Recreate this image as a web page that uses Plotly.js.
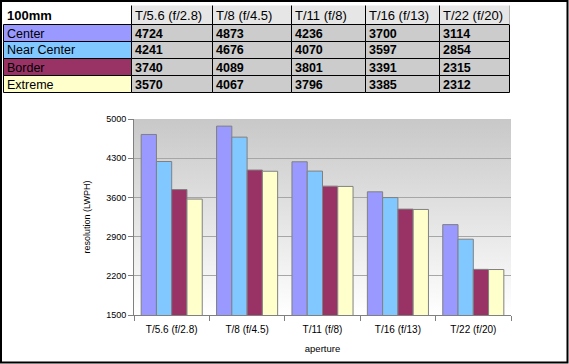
<!DOCTYPE html>
<html><head><meta charset="utf-8">
<script src="https://cdn.plot.ly/plotly-3.0.1.min.js"></script>
<style>html,body{margin:0;padding:0;background:#fff}#c{width:569px;height:364px}</style>
</head><body><div id="c"></div>
<script>
const categories = ["T/5.6 (f/2.8)", "T/8 (f/4.5)", "T/11 (f/8)", "T/16 (f/13)", "T/22 (f/20)"];
const seriesNames = ["Center", "Near Center", "Border", "Extreme"];
const center = [4724, 4873, 4236, 3700, 3114];
const nearCenter = [4241, 4676, 4070, 3597, 2854];
const border = [3740, 4089, 3801, 3391, 2315];
const extreme = [3570, 4067, 3796, 3385, 2312];
const yTicks = [1500, 2200, 2900, 3600, 4300, 5000];
const tableTitle = "100mm";

const colors = ["#9999ff", "#80c8ff", "#993366", "#ffffcc"];
const series = [center, nearCenter, border, extreme];
const W = 569, H = 364;
const FONT = "Liberation Sans, Arial, sans-serif";

// table geometry (layout only)
const colWidths = [128, 81, 79, 74, 74, 70];
const rowHeights = [19, 17, 17, 17, 17];
const tx0 = 3.5, ty0 = 5.5;
const colEdges = [tx0];
colWidths.forEach(w => colEdges.push(colEdges[colEdges.length - 1] + w));
const rowEdges = [ty0];
rowHeights.forEach(h => rowEdges.push(rowEdges[rowEdges.length - 1] + h));
const px = x => x / W, py = y => 1 - y / H;

const shapes = [];
const annotations = [];
// header row
for (let c = 0; c < colWidths.length; c++) {
  if (c > 0) {
    shapes.push({type: "rect", xref: "paper", yref: "paper", layer: "below",
      x0: px(colEdges[c]), x1: px(colEdges[c + 1]), y0: py(rowEdges[1]), y1: py(rowEdges[0]),
      fillcolor: "#e6e6e6", line: {width: 0}});
  }
  const txt = c === 0 ? "<b>" + tableTitle + "</b>" : categories[c - 1];
  annotations.push({xref: "paper", yref: "paper", x: px(colEdges[c] + 1.5), y: py((rowEdges[0] + rowEdges[1]) / 2 + 0.5),
    xanchor: "left", yanchor: "middle", showarrow: false, text: txt,
    font: {family: FONT, size: 13, color: "#000"}});
}
for (let c = 1; c < colEdges.length - 1; c++) {
  shapes.push({type: "line", xref: "paper", yref: "paper",
    x0: px(colEdges[c]), x1: px(colEdges[c]), y0: py(rowEdges[1]), y1: py(rowEdges[0]),
    line: {color: "#000", width: 1}});
}
shapes.push({type: "line", xref: "paper", yref: "paper",
  x0: px(colEdges[colEdges.length - 1]), x1: px(colEdges[colEdges.length - 1]), y0: py(rowEdges[1]), y1: py(rowEdges[0]),
  line: {color: "#b0b0b0", width: 1}});
// data rows
for (let r = 0; r < seriesNames.length; r++) {
  for (let c = 0; c < colWidths.length; c++) {
    shapes.push({type: "rect", xref: "paper", yref: "paper", layer: "below",
      x0: px(colEdges[c]), x1: px(colEdges[c + 1]), y0: py(rowEdges[r + 2]), y1: py(rowEdges[r + 1]),
      fillcolor: c === 0 ? colors[r] : "#cccccc", line: {color: "#000", width: 1}});
    const txt = c === 0 ? seriesNames[r] : "<b>" + series[r][c - 1] + "</b>";
    annotations.push({xref: "paper", yref: "paper", x: px(colEdges[c] + 1.5), y: py((rowEdges[r + 1] + rowEdges[r + 2]) / 2 + 0.5),
      xanchor: "left", yanchor: "middle", showarrow: false, text: txt,
      font: {family: FONT, size: 12.5, color: "#000"}});
  }
}

const barTraces = series.map((s, k) => ({
  type: "bar",
  x: categories,
  y: s,
  name: seriesNames[k],
  marker: {color: colors[k], line: {color: "#808080", width: 1}},
  hoverinfo: "skip"
}));

const gradSvg = '<svg xmlns="http://www.w3.org/2000/svg" width="100" height="100" preserveAspectRatio="none">' +
  '<defs><linearGradient id="g" x1="0" y1="0" x2="0" y2="1"><stop offset="0" stop-color="#c8c8c8"/><stop offset="1" stop-color="#ffffff"/></linearGradient></defs>' +
  '<rect width="100" height="100" fill="url(#g)"/></svg>';

shapes.push({
  type: "rect", xref: "paper", yref: "paper",
  x0: 1/W, x1: 1 - 1.5/W, y0: 1.5/H, y1: 1 - 1/H,
  line: {color: "#000000", width: 2}
});

const layout = {
  width: W, height: H,
  margin: {l: 0, r: 0, t: 0, b: 0},
  paper_bgcolor: "#ffffff",
  plot_bgcolor: "rgba(0,0,0,0)",
  showlegend: false,
  barmode: "group",
  bargap: 0.19,
  bargroupgap: 0,
  font: {family: FONT, size: 9, color: "#000"},
  xaxis: {
    domain: [134/W, 511/W],
    tickson: "boundaries",
    ticks: "outside", ticklen: 5, tickcolor: "#808080",
    ticklabelstandoff: 5,
    showline: true, linecolor: "#808080", linewidth: 1,
    showgrid: false,
    tickfont: {size: 10},
    title: {text: "aperture", font: {size: 9.5}, standoff: 11}
  },
  yaxis: {
    domain: [1 - 315/H, 1 - 119/H],
    range: [1500, 5000],
    tickvals: yTicks,
    ticks: "outside", ticklen: 5, tickcolor: "#808080",
    showline: true, linecolor: "#808080", linewidth: 1,
    gridcolor: "#a6a6a6", gridwidth: 1,
    zeroline: false,
    tickfont: {size: 9},
    title: {text: "resolution (LWPH)", font: {size: 9}, standoff: 14}
  },
  images: [{
    source: "data:image/svg+xml;charset=utf-8," + encodeURIComponent(gradSvg),
    xref: "x domain", yref: "y domain",
    x: 0, y: 1, sizex: 1, sizey: 1,
    xanchor: "left", yanchor: "top",
    sizing: "stretch", layer: "below"
  }],
  shapes: shapes,
  annotations: annotations
};

Plotly.newPlot("c", barTraces, layout, {displayModeBar: false, staticPlot: true});
</script></body></html>
